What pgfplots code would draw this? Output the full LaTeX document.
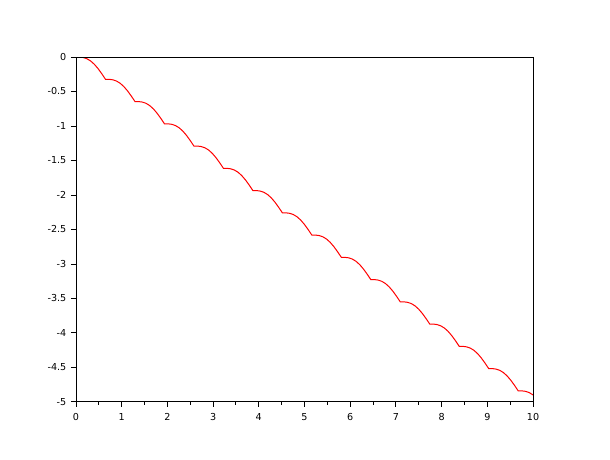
\documentclass[border=0pt]{standalone}
\usepackage{pgfplots}
\pgfplotsset{compat=1.18}
\usepackage{fontspec}
\setmainfont{DejaVu Sans}
\begin{document}
\begin{tikzpicture}[x=1pt,y=1pt]
\path[use as bounding box] (0,0) rectangle (457.5,345);
\begin{axis}[
  at={(57pt,43.5pt)}, anchor=south west,
  scale only axis, width=342.75pt, height=258.75pt,
  xmin=0, xmax=10, ymin=-5, ymax=0,
  axis x line*=bottom, axis y line*=left,
  axis line style={line width=0.75pt, -},
  xtick={0,1,...,10}, minor xtick={0.5,1.5,...,9.5},
  ytick={-5,-4.5,...,0},
  yticklabels={-5,-4.5,-4,-3.5,-3,-2.5,-2,-1.5,-1,-0.5,0},
  tick align=outside,
  major tick length=3.75pt, minor tick length=1.9pt,
  every tick/.style={black, line width=0.75pt},
  tick label style={font=\fontsize{7.2}{8}\selectfont},
  /pgf/number format/assume math mode=true,
  xticklabel style={yshift=-1pt},
  extra description/.code={\draw[line width=0.75pt] (rel axis cs:0,1) -- (rel axis cs:1,1) -- (rel axis cs:1,0);},
]
\addplot[red, line width=0.75pt] coordinates {
(0.13,-0.004) (0.1613,-0.0080) (0.2419,-0.0261) (0.3225,-0.0586) (0.4031,-0.1067) (0.4838,-0.1693) (0.5644,-0.2429)
(0.645,-0.3225) (0.7256,-0.3235) (0.8063,-0.3305) (0.8869,-0.3486) (0.9675,-0.3811) (1.0481,-0.4292) (1.1288,-0.4918) (1.2094,-0.5654)
(1.29,-0.645) (1.3706,-0.6460) (1.4513,-0.6530) (1.5319,-0.6711) (1.6125,-0.7036) (1.6931,-0.7517) (1.7738,-0.8143) (1.8544,-0.8879)
(1.935,-0.9675) (2.0156,-0.9685) (2.0963,-0.9755) (2.1769,-0.9936) (2.2575,-1.0261) (2.3381,-1.0742) (2.4188,-1.1368) (2.4994,-1.2104)
(2.58,-1.29) (2.6606,-1.2910) (2.7413,-1.2980) (2.8219,-1.3161) (2.9025,-1.3486) (2.9831,-1.3967) (3.0638,-1.4593) (3.1444,-1.5329)
(3.225,-1.6125) (3.3056,-1.6135) (3.3863,-1.6205) (3.4669,-1.6386) (3.5475,-1.6711) (3.6281,-1.7192) (3.7088,-1.7818) (3.7894,-1.8554)
(3.87,-1.935) (3.9506,-1.9360) (4.0313,-1.9430) (4.1119,-1.9611) (4.1925,-1.9936) (4.2731,-2.0417) (4.3538,-2.1043) (4.4344,-2.1779)
(4.515,-2.2575) (4.5956,-2.2585) (4.6763,-2.2655) (4.7569,-2.2836) (4.8375,-2.3161) (4.9181,-2.3642) (4.9988,-2.4268) (5.0794,-2.5004)
(5.16,-2.58) (5.2406,-2.5810) (5.3213,-2.5880) (5.4019,-2.6061) (5.4825,-2.6386) (5.5631,-2.6867) (5.6438,-2.7493) (5.7244,-2.8229)
(5.805,-2.9025) (5.8856,-2.9035) (5.9663,-2.9105) (6.0469,-2.9286) (6.1275,-2.9611) (6.2081,-3.0092) (6.2888,-3.0718) (6.3694,-3.1454)
(6.45,-3.225) (6.5306,-3.2260) (6.6113,-3.2330) (6.6919,-3.2511) (6.7725,-3.2836) (6.8531,-3.3317) (6.9338,-3.3943) (7.0144,-3.4679)
(7.095,-3.5475) (7.1756,-3.5485) (7.2563,-3.5555) (7.3369,-3.5736) (7.4175,-3.6061) (7.4981,-3.6542) (7.5788,-3.7168) (7.6594,-3.7904)
(7.74,-3.87) (7.8206,-3.8710) (7.9013,-3.8780) (7.9819,-3.8961) (8.0625,-3.9286) (8.1431,-3.9767) (8.2238,-4.0393) (8.3044,-4.1129)
(8.385,-4.1925) (8.4656,-4.1935) (8.5463,-4.2005) (8.6269,-4.2186) (8.7075,-4.2511) (8.7881,-4.2992) (8.8688,-4.3618) (8.9494,-4.4354)
(9.03,-4.515) (9.1106,-4.5160) (9.1913,-4.5230) (9.2719,-4.5411) (9.3525,-4.5736) (9.4331,-4.6217) (9.5138,-4.6843) (9.5944,-4.7579)
(9.675,-4.8375) (9.7556,-4.8385) (9.8363,-4.8455) (9.9169,-4.8636) (10.0,-4.8973)
};
\end{axis}
\end{tikzpicture}
\end{document}
